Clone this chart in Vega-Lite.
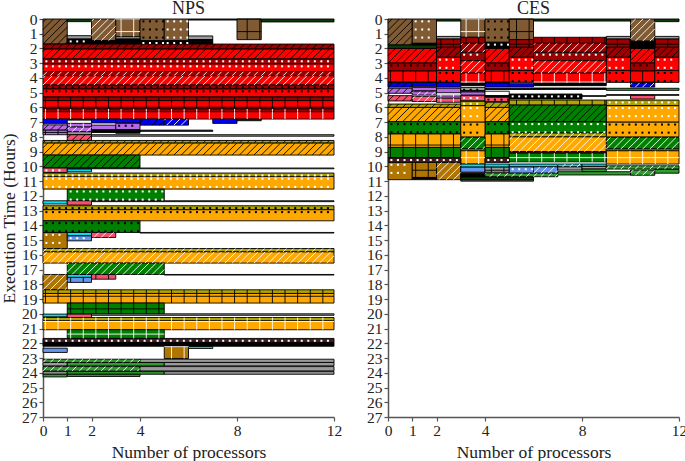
{"$schema":"https://vega.github.io/schema/vega-lite/v6.json","padding":{"left":0,"top":0,"right":0,"bottom":0},"background":"white","spacing":24,
"config":{"view":{"stroke":null},"legend":{"disable":true},"font":"Liberation Serif",
"axis":{"labelFont":"Liberation Serif","titleFont":"Liberation Serif","labelFontSize":15.5,"titleFontSize":17.5,"titleFontWeight":"normal","labelColor":"#222","titleColor":"#222","domainColor":"#555","domainWidth":1.5,"tickColor":"#555","tickWidth":1.2,"tickSize":4,"labelPadding":2,"grid":false,"labelFlush":false},
"title":{"font":"Liberation Serif","fontSize":18,"fontWeight":"normal","color":"#222","offset":-6}},
"datasets":{
"NPS":[
{"x0":0,"x1":1,"y0":0,"y1":1.7,"task":"brown","hatch":"slash","ink":"black"},
{"x0":1,"x1":2,"y0":0,"y1":0.18,"task":"darkgreen"},
{"x0":2,"x1":3,"y0":0,"y1":1.47,"task":"brown","hatch":"slash","ink":"white"},
{"x0":3,"x1":4,"y0":0,"y1":1.2,"task":"brown","hatch":"cross","ink":"white"},
{"x0":4,"x1":5,"y0":0,"y1":1.47,"task":"brown","hatch":"dot","ink":"black"},
{"x0":5,"x1":6,"y0":0,"y1":1.47,"task":"brown","hatch":"dot","ink":"white"},
{"x0":6,"x1":8,"y0":0,"y1":0.07,"task":"darkgreen"},
{"x0":8,"x1":9,"y0":0,"y1":1.4,"task":"brown","hatch":"cross","ink":"black"},
{"x0":9,"x1":12,"y0":0,"y1":0.2,"task":"darkgreen"},
{"x0":1,"x1":2,"y0":1.13,"y1":1.36,"task":"gray"},
{"x0":1,"x1":2,"y0":1.36,"y1":1.7,"task":"black","hatch":"dot","ink":"white"},
{"x0":2,"x1":3,"y0":1.47,"y1":1.7,"task":"black"},
{"x0":3,"x1":4,"y0":1.2,"y1":1.36,"task":"gray"},
{"x0":3,"x1":4,"y0":1.36,"y1":1.7,"task":"black"},
{"x0":4,"x1":5,"y0":1.47,"y1":1.7,"task":"black","hatch":"dot","ink":"white"},
{"x0":5,"x1":6,"y0":1.47,"y1":1.7,"task":"black","hatch":"dot","ink":"white"},
{"x0":6,"x1":7,"y0":1.15,"y1":1.4,"task":"gray"},
{"x0":6,"x1":7,"y0":1.4,"y1":1.55,"task":"black"},
{"x0":6,"x1":7,"y0":1.55,"y1":1.7,"task":"black","hatch":"dot","ink":"white"},
{"x0":0,"x1":12,"y0":1.7,"y1":2.04,"task":"darkred","hatch":"slash","ink":"black"},
{"x0":0,"x1":12,"y0":2.04,"y1":2.71,"task":"red","hatch":"slash","ink":"black"},
{"x0":0,"x1":12,"y0":2.71,"y1":3.05,"task":"darkred","hatch":"dot","ink":"white"},
{"x0":0,"x1":12,"y0":3.05,"y1":3.57,"task":"red","hatch":"dot","ink":"white"},
{"x0":0,"x1":12,"y0":3.57,"y1":3.85,"task":"darkred","hatch":"slash","ink":"white"},
{"x0":0,"x1":12,"y0":3.85,"y1":4.48,"task":"red","hatch":"slash","ink":"white"},
{"x0":0,"x1":12,"y0":4.48,"y1":4.75,"task":"darkred","hatch":"dot","ink":"black"},
{"x0":0,"x1":12,"y0":4.75,"y1":5.29,"task":"red","hatch":"dot","ink":"black"},
{"x0":0,"x1":12,"y0":5.29,"y1":5.54,"task":"darkred","hatch":"cross","ink":"black"},
{"x0":0,"x1":12,"y0":5.54,"y1":6.1,"task":"red","hatch":"cross","ink":"black"},
{"x0":0,"x1":12,"y0":6.1,"y1":6.29,"task":"darkred","hatch":"cross","ink":"white"},
{"x0":0,"x1":12,"y0":6.29,"y1":6.79,"task":"red","hatch":"cross","ink":"white"},
{"x0":0,"x1":1,"y0":6.79,"y1":7.08,"task":"blue"},
{"x0":2,"x1":3,"y0":6.79,"y1":7.05,"task":"blue"},
{"x0":3,"x1":4,"y0":6.79,"y1":7.05,"task":"blue"},
{"x0":4,"x1":5,"y0":6.79,"y1":7.2,"task":"blue","hatch":"slash","ink":"black"},
{"x0":5,"x1":6,"y0":6.79,"y1":7.2,"task":"blue","hatch":"slash","ink":"white"},
{"x0":7,"x1":8,"y0":6.79,"y1":7.08,"task":"blue"},
{"x0":1,"x1":2,"y0":6.79,"y1":6.86,"task":"darkgreen"},
{"x0":8,"x1":9,"y0":6.79,"y1":6.9,"task":"darkgreen"},
{"x0":1,"x1":2,"y0":7.08,"y1":7.33,"task":"purple","hatch":"cross","ink":"white"},
{"x0":1,"x1":2,"y0":7.33,"y1":7.65,"task":"purple","hatch":"slash","ink":"white"},
{"x0":1,"x1":2,"y0":7.65,"y1":7.85,"task":"gray"},
{"x0":0,"x1":1,"y0":7.18,"y1":7.54,"task":"purple","hatch":"slash","ink":"black"},
{"x0":0,"x1":1,"y0":7.54,"y1":7.85,"task":"purple","hatch":"cross","ink":"black"},
{"x0":2,"x1":3,"y0":7.2,"y1":7.52,"task":"purple"},
{"x0":2,"x1":3,"y0":7.52,"y1":7.7,"task":"black"},
{"x0":3,"x1":4,"y0":7.08,"y1":7.5,"task":"purple","hatch":"dot","ink":"black"},
{"x0":3,"x1":4,"y0":7.5,"y1":7.75,"task":"black"},
{"x0":4,"x1":7,"y0":7.54,"y1":7.62,"task":"black"},
{"x0":2,"x1":12,"y0":7.85,"y1":7.95,"task":"gray"},
{"x0":1,"x1":2,"y0":7.85,"y1":8.24,"task":"pink","hatch":"slash","ink":"black"},
{"x0":0,"x1":12,"y0":8.24,"y1":8.42,"task":"olive","hatch":"slash","ink":"black"},
{"x0":0,"x1":12,"y0":8.42,"y1":9.23,"task":"orange","hatch":"slash","ink":"black"},
{"x0":0,"x1":4,"y0":9.23,"y1":10.11,"task":"green","hatch":"slash","ink":"black"},
{"x0":1,"x1":12,"y0":10.11,"y1":10.16,"task":"gray"},
{"x0":0,"x1":1,"y0":10.11,"y1":10.41,"task":"pink","hatch":"dot","ink":"white"},
{"x0":1,"x1":2,"y0":10.18,"y1":10.36,"task":"cyan","hatch":"dot","ink":"white"},
{"x0":0,"x1":12,"y0":10.45,"y1":10.68,"task":"olive","hatch":"dot","ink":"white"},
{"x0":0,"x1":12,"y0":10.68,"y1":11.54,"task":"orange","hatch":"dot","ink":"white"},
{"x0":1,"x1":5,"y0":11.54,"y1":12.33,"task":"green","hatch":"dot","ink":"white"},
{"x0":2,"x1":12,"y0":12.33,"y1":12.39,"task":"gray"},
{"x0":0,"x1":1,"y0":12.33,"y1":12.55,"task":"cyan","hatch":"dot","ink":"white"},
{"x0":1,"x1":2,"y0":12.33,"y1":12.62,"task":"pink"},
{"x0":0,"x1":12,"y0":12.67,"y1":12.94,"task":"olive","hatch":"dot","ink":"black"},
{"x0":0,"x1":12,"y0":12.94,"y1":13.69,"task":"orange","hatch":"dot","ink":"black"},
{"x0":0,"x1":4,"y0":13.69,"y1":14.48,"task":"green","hatch":"dot","ink":"black"},
{"x0":4,"x1":12,"y0":14.48,"y1":14.52,"task":"gray"},
{"x0":0,"x1":1,"y0":14.48,"y1":15.57,"task":"amber","hatch":"dot","ink":"white"},
{"x0":1,"x1":2,"y0":14.48,"y1":14.71,"task":"cyan"},
{"x0":1,"x1":2,"y0":14.71,"y1":15.05,"task":"cornflower","hatch":"dot","ink":"white"},
{"x0":2,"x1":3,"y0":14.48,"y1":14.82,"task":"pink","hatch":"slash","ink":"white"},
{"x0":0,"x1":12,"y0":15.57,"y1":15.8,"task":"olive","hatch":"slash","ink":"white"},
{"x0":0,"x1":12,"y0":15.8,"y1":16.56,"task":"orange","hatch":"slash","ink":"white"},
{"x0":1,"x1":5,"y0":16.56,"y1":17.33,"task":"green","hatch":"slash","ink":"white"},
{"x0":5,"x1":12,"y0":17.33,"y1":17.37,"task":"gray"},
{"x0":0,"x1":1,"y0":17.33,"y1":18.37,"task":"amber","hatch":"slash","ink":"white"},
{"x0":1,"x1":2,"y0":17.33,"y1":17.53,"task":"cyan"},
{"x0":1,"x1":2,"y0":17.53,"y1":17.87,"task":"cornflower","hatch":"cross","ink":"black"},
{"x0":2,"x1":3,"y0":17.33,"y1":17.65,"task":"pink","hatch":"cross","ink":"black"},
{"x0":0,"x1":12,"y0":18.37,"y1":18.62,"task":"olive","hatch":"cross","ink":"black"},
{"x0":0,"x1":12,"y0":18.62,"y1":19.27,"task":"orange","hatch":"cross","ink":"black"},
{"x0":1,"x1":5,"y0":19.27,"y1":20.02,"task":"green","hatch":"cross","ink":"black"},
{"x0":2,"x1":12,"y0":20.0,"y1":20.1,"task":"gray"},
{"x0":0,"x1":1,"y0":20.02,"y1":20.2,"task":"cyan"},
{"x0":1,"x1":2,"y0":20.02,"y1":20.25,"task":"pink"},
{"x0":0,"x1":12,"y0":20.25,"y1":20.47,"task":"olive","hatch":"cross","ink":"white"},
{"x0":0,"x1":12,"y0":20.47,"y1":21.08,"task":"orange","hatch":"cross","ink":"white"},
{"x0":1,"x1":5,"y0":21.08,"y1":21.67,"task":"green","hatch":"cross","ink":"white"},
{"x0":0,"x1":12,"y0":21.67,"y1":21.95,"task":"maroon","hatch":"dot","ink":"white"},
{"x0":0,"x1":12,"y0":21.95,"y1":22.2,"task":"black"},
{"x0":0,"x1":1,"y0":22.33,"y1":22.62,"task":"cornflower"},
{"x0":5,"x1":6,"y0":22.22,"y1":23.03,"task":"amber","hatch":"cross","ink":"white"},
{"x0":6,"x1":7,"y0":22.22,"y1":22.35,"task":"cyan"},
{"x0":0,"x1":4,"y0":23.08,"y1":23.3,"task":"grass","hatch":"slash","ink":"white"},
{"x0":4,"x1":12,"y0":23.08,"y1":23.3,"task":"gray"},
{"x0":0,"x1":1,"y0":23.3,"y1":23.53,"task":"gray"},
{"x0":1,"x1":5,"y0":23.3,"y1":23.53,"task":"grass"},
{"x0":5,"x1":12,"y0":23.3,"y1":23.53,"task":"gray"},
{"x0":0,"x1":4,"y0":23.58,"y1":23.87,"task":"grass","hatch":"slash","ink":"white"},
{"x0":4,"x1":12,"y0":23.58,"y1":23.87,"task":"gray"},
{"x0":0,"x1":1,"y0":23.92,"y1":24.1,"task":"gray"},
{"x0":1,"x1":5,"y0":23.92,"y1":24.1,"task":"grass"},
{"x0":5,"x1":12,"y0":23.92,"y1":24.1,"task":"gray"},
{"x0":0,"x1":1,"y0":24.1,"y1":24.28,"task":"grass"},
{"x0":1,"x1":4,"y0":24.1,"y1":24.25,"task":"grass"}
],
"CES":[
{"x0":0,"x1":1,"y0":0,"y1":1.76,"task":"brown","hatch":"slash","ink":"black"},
{"x0":1,"x1":2,"y0":0,"y1":1.65,"task":"brown","hatch":"dot","ink":"white"},
{"x0":3,"x1":4,"y0":0,"y1":1.24,"task":"brown","hatch":"cross","ink":"white"},
{"x0":4,"x1":5,"y0":0,"y1":1.58,"task":"brown","hatch":"dot","ink":"black"},
{"x0":5,"x1":6,"y0":0,"y1":1.4,"task":"brown","hatch":"cross","ink":"black"},
{"x0":10,"x1":11,"y0":0,"y1":1.5,"task":"brown","hatch":"slash","ink":"white"},
{"x0":2,"x1":3,"y0":0,"y1":0.14,"task":"darkgreen"},
{"x0":6,"x1":10,"y0":0,"y1":0.14,"task":"darkgreen"},
{"x0":11,"x1":12,"y0":0,"y1":0.18,"task":"darkgreen"},
{"x0":0,"x1":2,"y0":1.76,"y1":2.0,"task":"darkgreen"},
{"x0":1,"x1":2,"y0":1.65,"y1":1.76,"task":"black","hatch":"dot","ink":"white"},
{"x0":4,"x1":5,"y0":1.58,"y1":2.0,"task":"black","hatch":"dot","ink":"white"},
{"x0":10,"x1":11,"y0":1.5,"y1":2.0,"task":"black"},
{"x0":0,"x1":2,"y0":2.0,"y1":2.99,"task":"red","hatch":"slash","ink":"black"},
{"x0":4,"x1":5,"y0":2.0,"y1":2.99,"task":"red","hatch":"slash","ink":"black"},
{"x0":10,"x1":11,"y0":2.0,"y1":2.99,"task":"red","hatch":"slash","ink":"black"},
{"x0":0,"x1":2,"y0":2.99,"y1":3.53,"task":"darkred","hatch":"dot","ink":"black"},
{"x0":4,"x1":5,"y0":2.99,"y1":3.53,"task":"darkred","hatch":"dot","ink":"black"},
{"x0":10,"x1":11,"y0":2.99,"y1":3.53,"task":"darkred","hatch":"dot","ink":"black"},
{"x0":0,"x1":2,"y0":3.53,"y1":4.3,"task":"red","hatch":"cross","ink":"black"},
{"x0":4,"x1":5,"y0":3.53,"y1":4.3,"task":"red","hatch":"cross","ink":"black"},
{"x0":10,"x1":11,"y0":3.53,"y1":4.3,"task":"red","hatch":"cross","ink":"black"},
{"x0":2,"x1":3,"y0":1.18,"y1":1.36,"task":"gray"},
{"x0":9,"x1":10,"y0":1.18,"y1":1.36,"task":"gray"},
{"x0":11,"x1":12,"y0":1.18,"y1":1.36,"task":"gray"},
{"x0":2,"x1":3,"y0":1.36,"y1":1.92,"task":"darkred","hatch":"cross","ink":"black"},
{"x0":5,"x1":6,"y0":1.4,"y1":1.92,"task":"darkred","hatch":"cross","ink":"black"},
{"x0":9,"x1":10,"y0":1.36,"y1":1.92,"task":"darkred","hatch":"cross","ink":"black"},
{"x0":11,"x1":12,"y0":1.36,"y1":1.92,"task":"darkred","hatch":"cross","ink":"black"},
{"x0":2,"x1":3,"y0":1.92,"y1":2.6,"task":"darkred","hatch":"slash","ink":"black"},
{"x0":5,"x1":6,"y0":1.92,"y1":2.6,"task":"darkred","hatch":"slash","ink":"black"},
{"x0":9,"x1":10,"y0":1.92,"y1":2.6,"task":"darkred","hatch":"slash","ink":"black"},
{"x0":11,"x1":12,"y0":1.92,"y1":2.6,"task":"darkred","hatch":"slash","ink":"black"},
{"x0":2,"x1":3,"y0":2.6,"y1":3.5,"task":"red","hatch":"dot","ink":"white"},
{"x0":5,"x1":6,"y0":2.6,"y1":3.5,"task":"red","hatch":"dot","ink":"white"},
{"x0":9,"x1":10,"y0":2.6,"y1":3.5,"task":"red","hatch":"dot","ink":"white"},
{"x0":11,"x1":12,"y0":2.6,"y1":3.5,"task":"red","hatch":"dot","ink":"white"},
{"x0":2,"x1":3,"y0":3.5,"y1":4.3,"task":"red","hatch":"dot","ink":"black"},
{"x0":5,"x1":6,"y0":3.5,"y1":4.3,"task":"red","hatch":"dot","ink":"black"},
{"x0":9,"x1":10,"y0":3.5,"y1":4.3,"task":"red","hatch":"dot","ink":"black"},
{"x0":11,"x1":12,"y0":3.5,"y1":4.3,"task":"red","hatch":"dot","ink":"black"},
{"x0":3,"x1":4,"y0":1.24,"y1":1.65,"task":"darkred","hatch":"cross","ink":"black"},
{"x0":6,"x1":9,"y0":1.24,"y1":1.65,"task":"darkred","hatch":"cross","ink":"black"},
{"x0":3,"x1":4,"y0":1.65,"y1":2.26,"task":"darkred","hatch":"slash","ink":"white"},
{"x0":6,"x1":9,"y0":1.65,"y1":2.26,"task":"darkred","hatch":"slash","ink":"white"},
{"x0":3,"x1":4,"y0":2.26,"y1":2.83,"task":"darkred","hatch":"dot","ink":"white"},
{"x0":6,"x1":9,"y0":2.26,"y1":2.83,"task":"darkred","hatch":"dot","ink":"white"},
{"x0":3,"x1":4,"y0":2.83,"y1":3.67,"task":"red","hatch":"slash","ink":"white"},
{"x0":6,"x1":9,"y0":2.83,"y1":3.67,"task":"red","hatch":"slash","ink":"white"},
{"x0":3,"x1":4,"y0":3.67,"y1":4.34,"task":"red","hatch":"cross","ink":"white"},
{"x0":6,"x1":9,"y0":3.67,"y1":4.34,"task":"red","hatch":"cross","ink":"white"},
{"x0":3,"x1":4,"y0":4.34,"y1":4.52,"task":"black"},
{"x0":6,"x1":9,"y0":4.34,"y1":4.52,"task":"black"},
{"x0":0,"x1":1,"y0":4.3,"y1":4.62,"task":"blue","hatch":"slash","ink":"black"},
{"x0":1,"x1":2,"y0":4.3,"y1":4.57,"task":"blue"},
{"x0":2,"x1":3,"y0":4.3,"y1":4.62,"task":"blue"},
{"x0":4,"x1":5,"y0":4.34,"y1":4.62,"task":"blue"},
{"x0":5,"x1":6,"y0":4.39,"y1":4.62,"task":"blue"},
{"x0":10,"x1":11,"y0":4.34,"y1":4.62,"task":"blue","hatch":"slash","ink":"white"},
{"x0":0,"x1":1,"y0":4.7,"y1":5.04,"task":"purple","hatch":"slash","ink":"black"},
{"x0":1,"x1":2,"y0":4.64,"y1":4.86,"task":"purple"},
{"x0":1,"x1":2,"y0":4.93,"y1":5.16,"task":"purple","hatch":"slash","ink":"white"},
{"x0":2,"x1":3,"y0":4.7,"y1":5.0,"task":"purple"},
{"x0":2,"x1":3,"y0":5.13,"y1":5.3,"task":"purple","hatch":"cross","ink":"white"},
{"x0":3,"x1":4,"y0":4.64,"y1":4.86,"task":"gray","hatch":"dot","ink":"black"},
{"x0":3,"x1":4,"y0":4.86,"y1":4.95,"task":"grass"},
{"x0":3,"x1":4,"y0":4.95,"y1":5.16,"task":"purple","hatch":"dot","ink":"black"},
{"x0":0,"x1":1,"y0":5.2,"y1":5.56,"task":"pink","hatch":"slash","ink":"black"},
{"x0":1,"x1":2,"y0":5.25,"y1":5.6,"task":"pink","hatch":"slash","ink":"white"},
{"x0":2,"x1":3,"y0":5.38,"y1":5.65,"task":"pink","hatch":"cross","ink":"white"},
{"x0":3,"x1":4,"y0":5.2,"y1":5.54,"task":"pink","hatch":"dot","ink":"white"},
{"x0":4,"x1":5,"y0":4.9,"y1":5.2,"task":"white"},
{"x0":4,"x1":5,"y0":5.2,"y1":5.31,"task":"black"},
{"x0":4,"x1":5,"y0":5.31,"y1":5.6,"task":"pink","hatch":"dot","ink":"black"},
{"x0":5,"x1":8,"y0":5.09,"y1":5.43,"task":"black","hatch":"dot","ink":"white"},
{"x0":6,"x1":9,"y0":4.68,"y1":4.72,"task":"gray"},
{"x0":4,"x1":9,"y0":4.72,"y1":4.78,"task":"black"},
{"x0":9,"x1":12,"y0":4.7,"y1":4.84,"task":"grass"},
{"x0":8,"x1":9,"y0":5.2,"y1":5.25,"task":"gray"},
{"x0":9,"x1":12,"y0":5.13,"y1":5.18,"task":"gray"},
{"x0":10,"x1":11,"y0":5.18,"y1":5.43,"task":"pink"},
{"x0":0,"x1":3,"y0":5.77,"y1":6.0,"task":"olive","hatch":"slash","ink":"black"},
{"x0":4,"x1":5,"y0":5.65,"y1":6.0,"task":"olive","hatch":"slash","ink":"black"},
{"x0":3,"x1":4,"y0":5.59,"y1":5.88,"task":"olive","hatch":"dot","ink":"white"},
{"x0":5,"x1":9,"y0":5.5,"y1":5.84,"task":"olive","hatch":"cross","ink":"black"},
{"x0":9,"x1":12,"y0":5.5,"y1":5.88,"task":"olive","hatch":"dot","ink":"white"},
{"x0":0,"x1":3,"y0":6.0,"y1":6.97,"task":"orange","hatch":"slash","ink":"black"},
{"x0":4,"x1":5,"y0":6.0,"y1":6.97,"task":"orange","hatch":"slash","ink":"black"},
{"x0":3,"x1":4,"y0":5.88,"y1":7.0,"task":"orange","hatch":"dot","ink":"white"},
{"x0":9,"x1":12,"y0":5.88,"y1":7.0,"task":"orange","hatch":"dot","ink":"white"},
{"x0":5,"x1":9,"y0":5.84,"y1":6.97,"task":"green","hatch":"slash","ink":"black"},
{"x0":0,"x1":3,"y0":6.97,"y1":7.8,"task":"green","hatch":"dot","ink":"black"},
{"x0":4,"x1":5,"y0":6.97,"y1":7.8,"task":"green","hatch":"dot","ink":"black"},
{"x0":3,"x1":4,"y0":7.0,"y1":8.0,"task":"orange","hatch":"dot","ink":"black"},
{"x0":9,"x1":12,"y0":7.0,"y1":8.0,"task":"orange","hatch":"dot","ink":"black"},
{"x0":5,"x1":9,"y0":6.97,"y1":7.74,"task":"green","hatch":"dot","ink":"white"},
{"x0":5,"x1":9,"y0":7.74,"y1":8.0,"task":"olive","hatch":"slash","ink":"white"},
{"x0":0,"x1":3,"y0":7.8,"y1":8.71,"task":"orange","hatch":"cross","ink":"black"},
{"x0":4,"x1":5,"y0":7.8,"y1":8.71,"task":"orange","hatch":"cross","ink":"black"},
{"x0":3,"x1":4,"y0":8.03,"y1":8.82,"task":"green","hatch":"slash","ink":"white"},
{"x0":9,"x1":12,"y0":8.03,"y1":8.82,"task":"green","hatch":"slash","ink":"white"},
{"x0":5,"x1":9,"y0":8.0,"y1":9.0,"task":"orange","hatch":"slash","ink":"white"},
{"x0":0,"x1":3,"y0":8.71,"y1":9.41,"task":"green","hatch":"cross","ink":"black"},
{"x0":4,"x1":5,"y0":8.71,"y1":9.41,"task":"green","hatch":"cross","ink":"black"},
{"x0":3,"x1":4,"y0":8.82,"y1":8.94,"task":"olive"},
{"x0":9,"x1":12,"y0":8.82,"y1":8.94,"task":"olive"},
{"x0":3,"x1":4,"y0":8.94,"y1":9.84,"task":"orange","hatch":"cross","ink":"white"},
{"x0":9,"x1":12,"y0":8.94,"y1":9.84,"task":"orange","hatch":"cross","ink":"white"},
{"x0":5,"x1":9,"y0":9.0,"y1":9.1,"task":"maroon"},
{"x0":5,"x1":9,"y0":9.1,"y1":9.69,"task":"green","hatch":"cross","ink":"white"},
{"x0":0,"x1":3,"y0":9.41,"y1":9.73,"task":"maroon","hatch":"dot","ink":"white"},
{"x0":4,"x1":5,"y0":9.41,"y1":9.73,"task":"maroon","hatch":"dot","ink":"white"},
{"x0":0,"x1":1,"y0":9.73,"y1":10.9,"task":"amber","hatch":"dot","ink":"white"},
{"x0":1,"x1":2,"y0":9.73,"y1":10.75,"task":"amber","hatch":"cross","ink":"black"},
{"x0":1,"x1":2,"y0":10.75,"y1":10.9,"task":"black"},
{"x0":2,"x1":3,"y0":9.73,"y1":10.9,"task":"amber","hatch":"slash","ink":"white"},
{"x0":3,"x1":4,"y0":9.84,"y1":10.05,"task":"cyan"},
{"x0":4,"x1":5,"y0":9.84,"y1":10.05,"task":"cyan"},
{"x0":5,"x1":7,"y0":9.84,"y1":10.03,"task":"cyan"},
{"x0":7,"x1":8,"y0":9.84,"y1":10.03,"task":"cyan","hatch":"slash","ink":"white"},
{"x0":8,"x1":9,"y0":9.84,"y1":10.0,"task":"cyan"},
{"x0":3,"x1":4,"y0":10.05,"y1":10.4,"task":"cornflower"},
{"x0":4,"x1":5,"y0":10.05,"y1":10.4,"task":"gray","hatch":"cross","ink":"black"},
{"x0":5,"x1":6,"y0":10.03,"y1":10.46,"task":"cornflower","hatch":"dot","ink":"white"},
{"x0":6,"x1":7,"y0":10.03,"y1":10.46,"task":"cornflower","hatch":"slash","ink":"white"},
{"x0":7,"x1":8,"y0":10.03,"y1":10.25,"task":"gray"},
{"x0":8,"x1":9,"y0":10.0,"y1":10.18,"task":"gray"},
{"x0":3,"x1":4,"y0":10.4,"y1":10.5,"task":"gray"},
{"x0":3,"x1":4,"y0":10.5,"y1":10.72,"task":"black"},
{"x0":4,"x1":7,"y0":10.46,"y1":10.7,"task":"grass","hatch":"slash","ink":"white"},
{"x0":3,"x1":6,"y0":10.72,"y1":10.93,"task":"darkgreen"},
{"x0":3,"x1":6,"y0":10.93,"y1":11.0,"task":"gray"},
{"x0":8,"x1":9,"y0":10.18,"y1":10.36,"task":"grass"},
{"x0":9,"x1":12,"y0":9.96,"y1":10.18,"task":"grass","hatch":"slash","ink":"white"},
{"x0":7,"x1":10,"y0":10.36,"y1":10.58,"task":"grass"},
{"x0":10,"x1":11,"y0":10.25,"y1":10.6,"task":"grass","hatch":"slash","ink":"white"},
{"x0":11,"x1":12,"y0":10.2,"y1":10.46,"task":"grass"}
]},
"hconcat":[
{"title":"NPS","width":291,"height":398,
"layer":[
{"data":{"name":"NPS"},"mark":{"type":"rect","stroke":"#000","strokeWidth":0.9},"encoding":{"x":{"field":"x0","type":"quantitative","scale":{"domain":[0,12],"nice":false},"axis":{"values":[0,1,2,4,8,12],"title":"Number of processors","titlePadding":5,"labelOverlap":false}},"x2":{"field":"x1"},"y":{"field":"y0","type":"quantitative","scale":{"domain":[0,27],"reverse":true,"nice":false},"axis":{"values":[0,1,2,3,4,5,6,7,8,9,10,11,12,13,14,15,16,17,18,19,20,21,22,23,24,25,26,27],"tickCount":28,"title":"Execution Time (Hours)","titlePadding":3,"labelOverlap":false}},"y2":{"field":"y1"},"fill":{"field":"task","type":"nominal","scale":{"domain":["brown","darkgreen","gray","black","darkred","red","blue","purple","pink","olive","orange","green","cyan","amber","cornflower","maroon","grass","white"],"range":["#7f5a33","#0a3a0a","#9a9a9a","#000000","#9c0000","#ff0000","#0000f0","#b868e8","#f5516e","#b0a400","#ffa800","#008000","#00e0ee","#b07400","#6495ed","#451a20","#2f9e2f","#ffffff"]}}}},
{"data":{"name":"NPS"},"transform":[{"filter":"datum.hatch=='slash'"},{"calculate":"(datum.y1-datum.y0)*0.608","as":"d"},{"calculate":"sequence(floor((datum.x0-datum.d)/0.3)*0.3,datum.x1,0.3)","as":"t"},{"flatten":["t"]},{"calculate":"max(datum.t,datum.x0)","as":"ax"},{"calculate":"min(datum.t+datum.d,datum.x1)","as":"bx"},{"filter":"datum.bx>datum.ax"},{"calculate":"datum.y1-(datum.ax-datum.t)/datum.d*(datum.y1-datum.y0)","as":"ay"},{"calculate":"datum.y1-(datum.bx-datum.t)/datum.d*(datum.y1-datum.y0)","as":"by"}],"mark":{"type":"rule","strokeWidth":0.9},"encoding":{"x":{"field":"ax","type":"quantitative"},"x2":{"field":"bx"},"y":{"field":"ay","type":"quantitative"},"y2":{"field":"by"},"color":{"field":"ink","type":"nominal","scale":{"domain":["black","white"],"range":["#000000","#ffffff"]}}}},
{"data":{"name":"NPS"},"transform":[{"filter":"datum.hatch=='cross'"},{"calculate":"sequence(ceil((datum.x0-0.1)/0.52)*0.52+0.1,datum.x1,0.52)","as":"vx"},{"flatten":["vx"]}],"mark":{"type":"rule","strokeWidth":0.9},"encoding":{"x":{"field":"vx","type":"quantitative"},"y":{"field":"y0","type":"quantitative"},"y2":{"field":"y1"},"color":{"field":"ink","type":"nominal","scale":{"domain":["black","white"],"range":["#000000","#ffffff"]}}}},
{"data":{"name":"NPS"},"transform":[{"filter":"datum.hatch=='cross'"},{"calculate":"sequence(ceil(datum.y0/0.855)*0.855,datum.y1,0.855)","as":"hy"},{"flatten":["hy"]}],"mark":{"type":"rule","strokeWidth":0.9},"encoding":{"x":{"field":"x0","type":"quantitative"},"x2":{"field":"x1"},"y":{"field":"hy","type":"quantitative"},"color":{"field":"ink","type":"nominal","scale":{"domain":["black","white"],"range":["#000000","#ffffff"]}}}},
{"data":{"name":"NPS"},"transform":[{"filter":"datum.hatch=='dot'"},{"calculate":"sequence(datum.x0+0.14,datum.x1-0.05,0.27)","as":"dx"},{"flatten":["dx"]},{"calculate":"sequence(datum.y0+0.16,datum.y1-0.06,0.55)","as":"dy"},{"flatten":["dy"]}],"mark":{"type":"point","shape":"square","filled":true,"size":4,"opacity":1},"encoding":{"x":{"field":"dx","type":"quantitative"},"y":{"field":"dy","type":"quantitative"},"color":{"field":"ink","type":"nominal","scale":{"domain":["black","white"],"range":["#000000","#ffffff"]}}}}
]},
{"title":"CES","width":291,"height":398,
"layer":[
{"data":{"name":"CES"},"mark":{"type":"rect","stroke":"#000","strokeWidth":0.9},"encoding":{"x":{"field":"x0","type":"quantitative","scale":{"domain":[0,12],"nice":false},"axis":{"values":[0,1,2,4,8,12],"title":"Number of processors","titlePadding":5,"labelOverlap":false}},"x2":{"field":"x1"},"y":{"field":"y0","type":"quantitative","scale":{"domain":[0,27],"reverse":true,"nice":false},"axis":{"values":[0,1,2,3,4,5,6,7,8,9,10,11,12,13,14,15,16,17,18,19,20,21,22,23,24,25,26,27],"tickCount":28,"title":null,"labelOverlap":false}},"y2":{"field":"y1"},"fill":{"field":"task","type":"nominal","scale":{"domain":["brown","darkgreen","gray","black","darkred","red","blue","purple","pink","olive","orange","green","cyan","amber","cornflower","maroon","grass","white"],"range":["#7f5a33","#0a3a0a","#9a9a9a","#000000","#9c0000","#ff0000","#0000f0","#b868e8","#f5516e","#b0a400","#ffa800","#008000","#00e0ee","#b07400","#6495ed","#451a20","#2f9e2f","#ffffff"]}}}},
{"data":{"name":"CES"},"transform":[{"filter":"datum.hatch=='slash'"},{"calculate":"(datum.y1-datum.y0)*0.608","as":"d"},{"calculate":"sequence(floor((datum.x0-datum.d)/0.3)*0.3,datum.x1,0.3)","as":"t"},{"flatten":["t"]},{"calculate":"max(datum.t,datum.x0)","as":"ax"},{"calculate":"min(datum.t+datum.d,datum.x1)","as":"bx"},{"filter":"datum.bx>datum.ax"},{"calculate":"datum.y1-(datum.ax-datum.t)/datum.d*(datum.y1-datum.y0)","as":"ay"},{"calculate":"datum.y1-(datum.bx-datum.t)/datum.d*(datum.y1-datum.y0)","as":"by"}],"mark":{"type":"rule","strokeWidth":0.9},"encoding":{"x":{"field":"ax","type":"quantitative"},"x2":{"field":"bx"},"y":{"field":"ay","type":"quantitative"},"y2":{"field":"by"},"color":{"field":"ink","type":"nominal","scale":{"domain":["black","white"],"range":["#000000","#ffffff"]}}}},
{"data":{"name":"CES"},"transform":[{"filter":"datum.hatch=='cross'"},{"calculate":"sequence(ceil((datum.x0-0.1)/0.52)*0.52+0.1,datum.x1,0.52)","as":"vx"},{"flatten":["vx"]}],"mark":{"type":"rule","strokeWidth":0.9},"encoding":{"x":{"field":"vx","type":"quantitative"},"y":{"field":"y0","type":"quantitative"},"y2":{"field":"y1"},"color":{"field":"ink","type":"nominal","scale":{"domain":["black","white"],"range":["#000000","#ffffff"]}}}},
{"data":{"name":"CES"},"transform":[{"filter":"datum.hatch=='cross'"},{"calculate":"sequence(ceil(datum.y0/0.855)*0.855,datum.y1,0.855)","as":"hy"},{"flatten":["hy"]}],"mark":{"type":"rule","strokeWidth":0.9},"encoding":{"x":{"field":"x0","type":"quantitative"},"x2":{"field":"x1"},"y":{"field":"hy","type":"quantitative"},"color":{"field":"ink","type":"nominal","scale":{"domain":["black","white"],"range":["#000000","#ffffff"]}}}},
{"data":{"name":"CES"},"transform":[{"filter":"datum.hatch=='dot'"},{"calculate":"sequence(datum.x0+0.14,datum.x1-0.05,0.27)","as":"dx"},{"flatten":["dx"]},{"calculate":"sequence(datum.y0+0.16,datum.y1-0.06,0.55)","as":"dy"},{"flatten":["dy"]}],"mark":{"type":"point","shape":"square","filled":true,"size":4,"opacity":1},"encoding":{"x":{"field":"dx","type":"quantitative"},"y":{"field":"dy","type":"quantitative"},"color":{"field":"ink","type":"nominal","scale":{"domain":["black","white"],"range":["#000000","#ffffff"]}}}}
]}
]}
